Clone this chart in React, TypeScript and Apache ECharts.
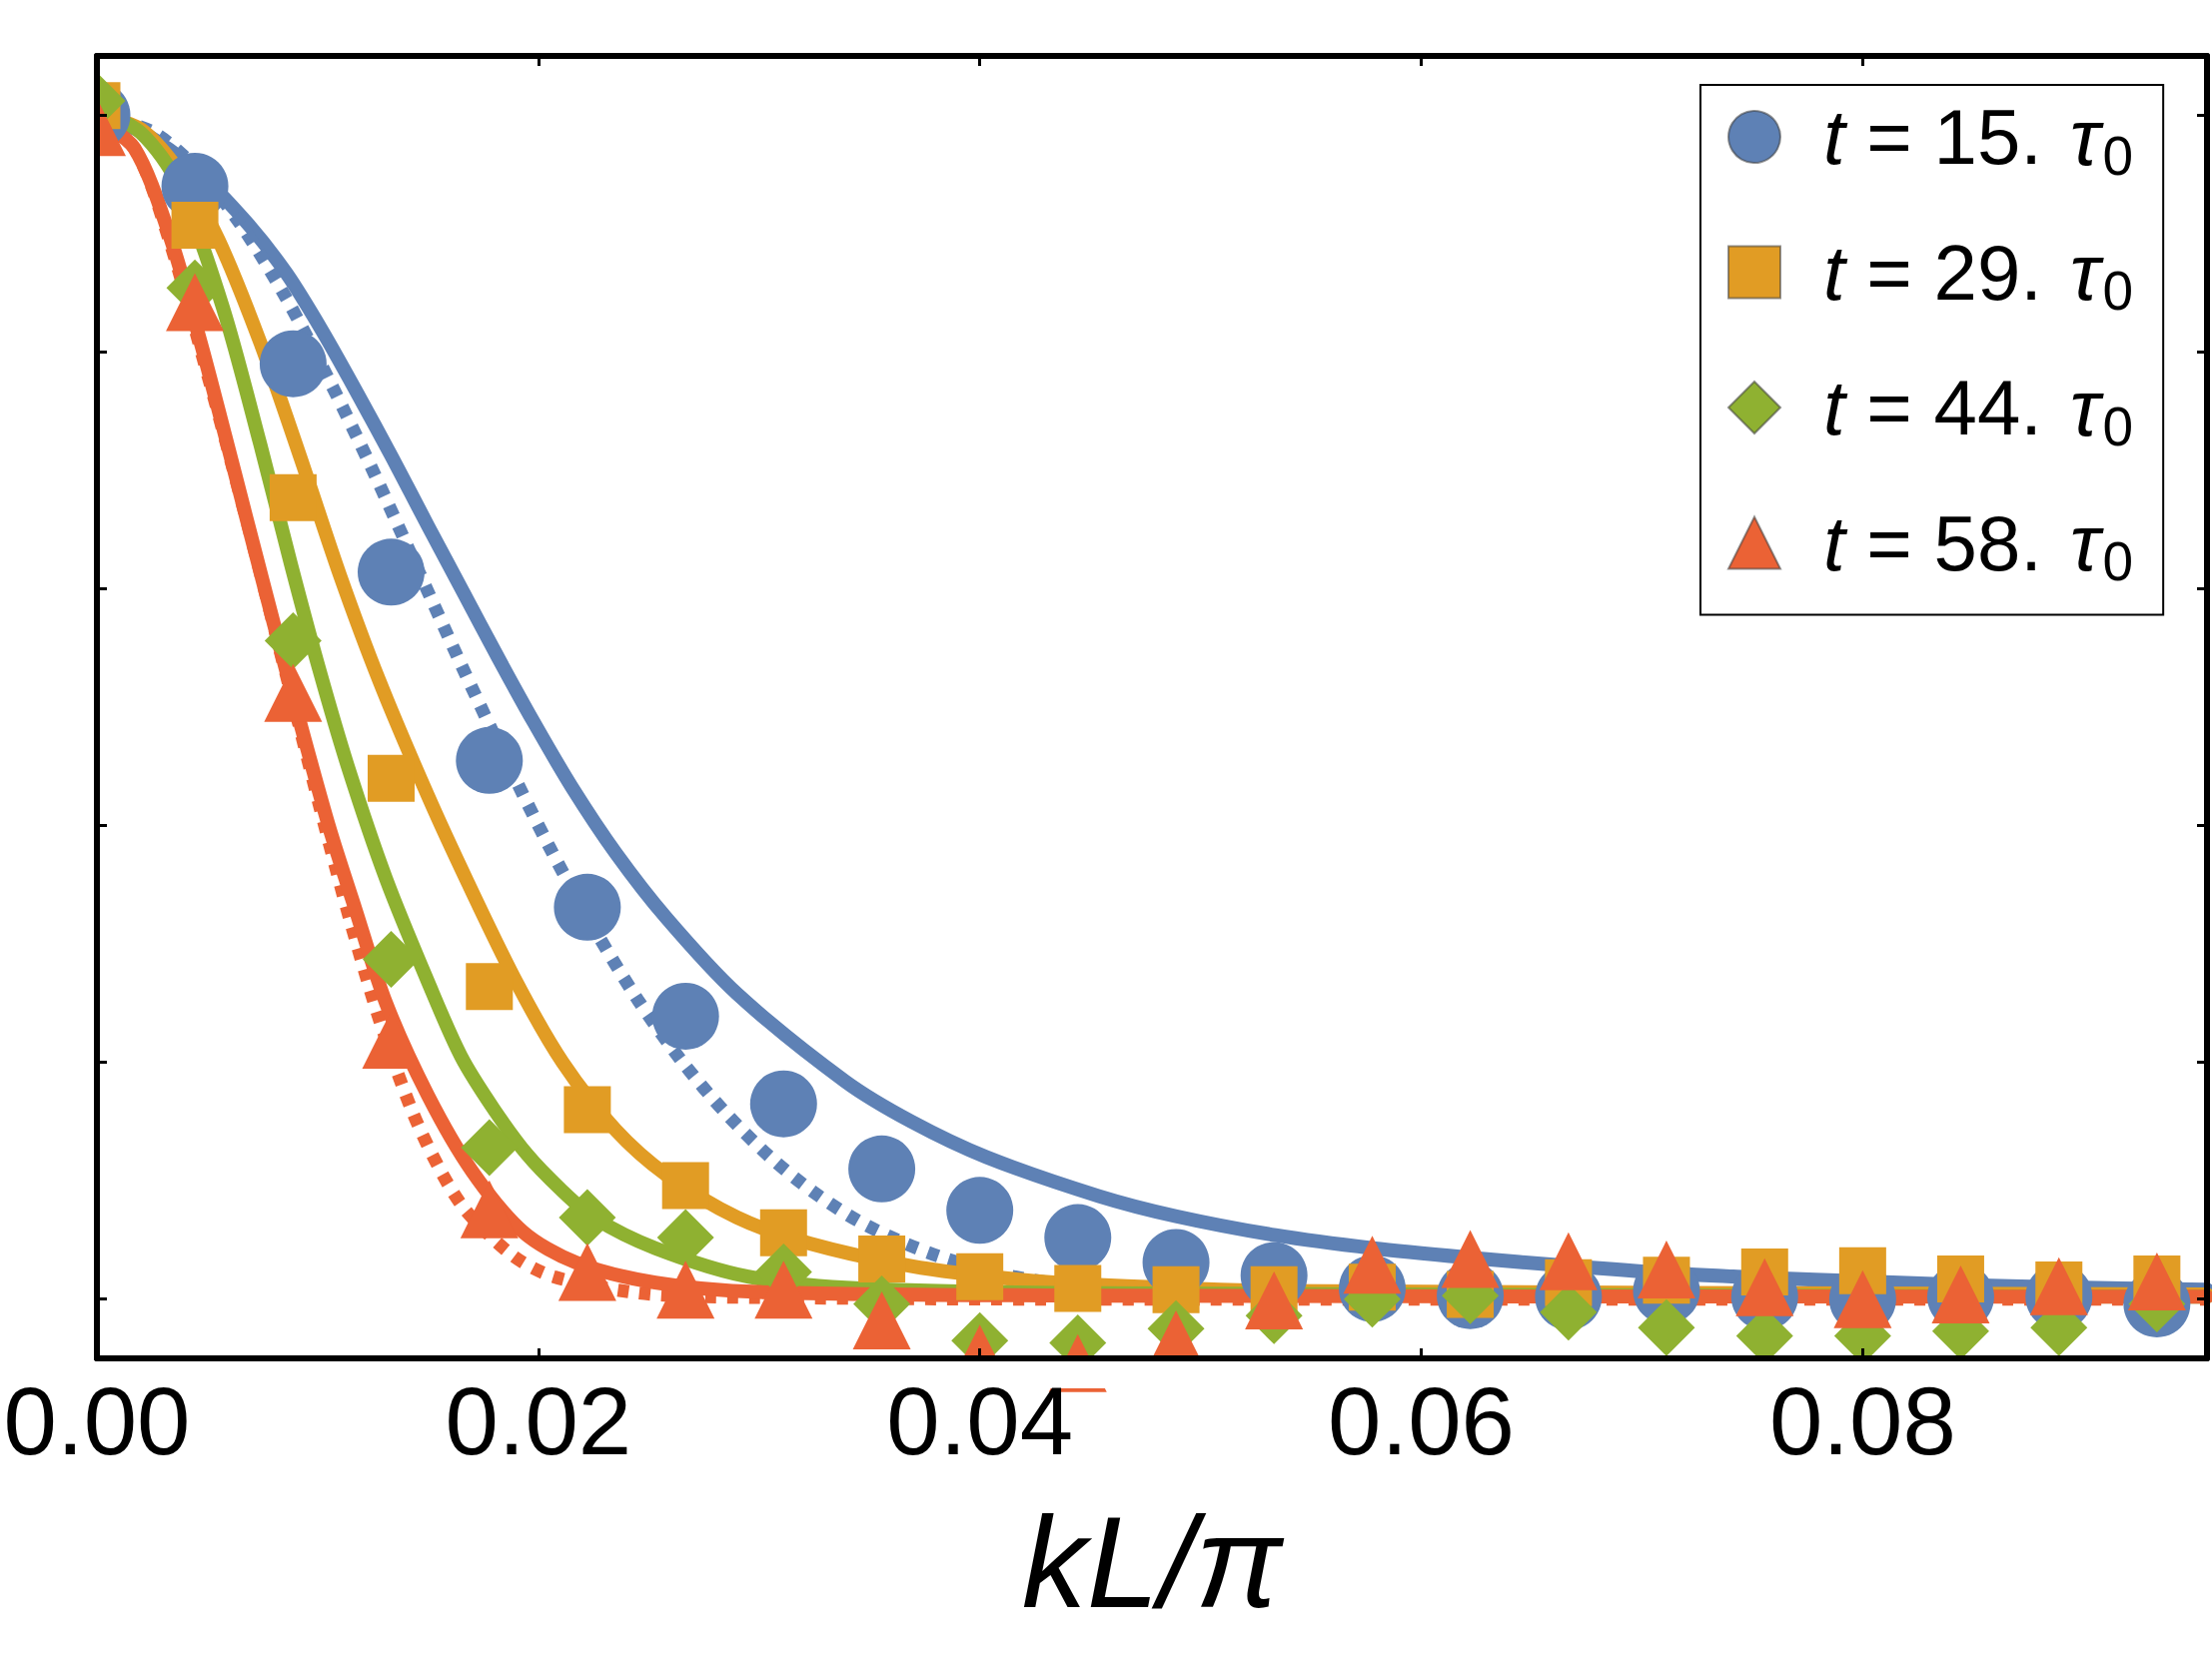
import React, { useEffect, useRef } from "react";
import * as echarts from "echarts";

// ---- data ----
const kValues = [0, 0.00444, 0.00889, 0.01333, 0.01778, 0.02222, 0.02667, 0.03111, 0.03556, 0.04, 0.04444, 0.04889, 0.05333, 0.05778, 0.06222, 0.06667, 0.07111, 0.07556, 0.08, 0.08444, 0.08889, 0.09333];

const pts15 = [1.0, 0.94, 0.79, 0.614, 0.455, 0.331, 0.239, 0.165, 0.11, 0.075, 0.052, 0.031, 0.02, 0.009, 0.003, 0.002, 0.007, 0.002, 0.0, 0.002, 0.002, -0.004];
const pts29 = [1.008, 0.907, 0.677, 0.44, 0.264, 0.16, 0.096, 0.056, 0.034, 0.019, 0.009, 0.008, 0.008, 0.01, 0.004, 0.014, 0.016, 0.023, 0.024, 0.017, 0.012, 0.017];
const pts44 = [1.012, 0.854, 0.556, 0.287, 0.128, 0.069, 0.052, 0.023, -0.004, -0.035, -0.037, -0.025, -0.014, 0.0, 0.003, -0.011, -0.024, -0.031, -0.031, -0.027, -0.024, -0.004];
const pts58 = [0.99, 0.842, 0.512, 0.219, 0.076, 0.023, 0.008, 0.008, -0.018, -0.046, -0.054, -0.034, -0.001, 0.029, 0.034, 0.032, 0.025, 0.01, 0.0, 0.004, 0.011, 0.015];

const fit15 = [[0, 1.0], [0.002, 0.986], [0.0045, 0.953], [0.0068, 0.909], [0.0086, 0.866], [0.0102, 0.818], [0.0118, 0.765], [0.0134, 0.71], [0.015, 0.653], [0.0166, 0.597], [0.0182, 0.541], [0.0198, 0.487], [0.0215, 0.433], [0.0235, 0.377], [0.0258, 0.322], [0.029, 0.258], [0.0339, 0.184], [0.0369, 0.15], [0.0403, 0.12], [0.0454, 0.087], [0.0489, 0.07], [0.0534, 0.054], [0.0578, 0.043], [0.0622, 0.035], [0.0667, 0.028], [0.0712, 0.022], [0.0756, 0.018], [0.0801, 0.015], [0.0845, 0.012], [0.0889, 0.01], [0.0956, 0.008]];
const dot15 = [[0, 1.0], [0.0025, 0.986], [0.0045, 0.955], [0.0065, 0.908], [0.0085, 0.848], [0.0105, 0.777], [0.0125, 0.7], [0.0145, 0.618], [0.0165, 0.536], [0.0185, 0.457], [0.0205, 0.382], [0.0225, 0.314], [0.0245, 0.253], [0.0265, 0.201], [0.0285, 0.157], [0.0305, 0.12], [0.0325, 0.09], [0.0345, 0.066], [0.0365, 0.048], [0.0385, 0.034], [0.041, 0.021], [0.044, 0.012], [0.048, 0.006], [0.055, 0.003], [0.0956, 0.002]];
const fit29 = [[0, 1.0], [0.002, 0.988], [0.0039, 0.948], [0.0055, 0.895], [0.0074, 0.808], [0.0092, 0.712], [0.011, 0.612], [0.0128, 0.522], [0.015, 0.425], [0.0168, 0.352], [0.019, 0.268], [0.0211, 0.2], [0.0235, 0.143], [0.0258, 0.105], [0.029, 0.069], [0.0323, 0.047], [0.0369, 0.028], [0.0415, 0.017], [0.0454, 0.012], [0.0534, 0.007], [0.0956, 0.004]];
const fit44 = [[0, 1.005], [0.002, 0.985], [0.0037, 0.941], [0.0057, 0.838], [0.0074, 0.722], [0.0088, 0.62], [0.0101, 0.53], [0.0114, 0.448], [0.0131, 0.355], [0.015, 0.268], [0.0165, 0.205], [0.018, 0.16], [0.0195, 0.122], [0.021, 0.093], [0.0225, 0.069], [0.0253, 0.043], [0.0295, 0.019], [0.0346, 0.009], [0.0454, 0.005], [0.0956, 0.002]];
const fit58 = [[0, 0.996], [0.0017, 0.972], [0.0033, 0.898], [0.0047, 0.808], [0.0058, 0.73], [0.0067, 0.665], [0.0077, 0.593], [0.0089, 0.508], [0.0105, 0.4], [0.0117, 0.33], [0.0131, 0.25], [0.015, 0.172], [0.017, 0.108], [0.0193, 0.057], [0.0217, 0.031], [0.0253, 0.014], [0.03, 0.006], [0.0454, 0.003], [0.0956, 0.002]];
const dot58 = [[0, 0.996], [0.0017, 0.972], [0.0033, 0.893], [0.0051, 0.775], [0.0061, 0.706], [0.0072, 0.628], [0.0081, 0.562], [0.0091, 0.489], [0.0104, 0.394], [0.0115, 0.318], [0.0128, 0.236], [0.0143, 0.158], [0.0157, 0.104], [0.0168, 0.073], [0.0189, 0.036], [0.0207, 0.019], [0.0242, 0.006], [0.0276, 0.002], [0.0454, 0.0], [0.0956, 0.0]];

const seriesNames = ["t15", "t29", "t44", "t58"];
const legendNumbers = ["15.", "29.", "44.", "58."];
const xTicks = [0, 0.02, 0.04, 0.06, 0.08];
const yTicks = [0, 0.2, 0.4, 0.6, 0.8, 1.0];

const BLUE = "#5E81B5";
const ORANGE = "#E19C24";
const GREEN = "#8FB131";
const RED = "#EB6235";
const FONT = "'Liberation Sans', Arial, sans-serif";

export default function App() {
  const ref = useRef<HTMLDivElement>(null);

  useEffect(() => {
    document.body.style.margin = "0";
    if (!ref.current) return;
    const chart = echarts.init(ref.current, undefined, { renderer: "svg" });

    const scatter = (name: string, vals: number[], symbol: string, size: number, color: string) => ({
      type: "scatter",
      name,
      data: kValues.map((k, i) => [k, vals[i]]),
      symbol,
      symbolSize: size,
      itemStyle: { color, opacity: 1 },
      clip: false,
      z: 3,
    });
    const line = (name: string, data: number[][], color: string, dotted: boolean) => ({
      type: "line",
      name,
      data,
      showSymbol: false,
      symbol: "none",
      smooth: 0.3,
      lineStyle: dotted
        ? { color, width: 13, type: [11, 11], cap: "butt", opacity: 1 }
        : { color, width: 14, type: "solid", cap: "round", join: "round", opacity: 1 },
      z: 2,
      silent: true,
    });

    const axisCommon = {
      type: "value",
      axisLine: { show: true, onZero: false, lineStyle: { color: "#000", width: 6 } },
      axisTick: { show: true, inside: true, length: 10, lineStyle: { color: "#000", width: 3 } },
      splitLine: { show: false },
      z: 5,
    };

    chart.setOption({
      animation: false,
      backgroundColor: "#fff",
      grid: { left: 97, right: 5, top: 56, bottom: 308, containLabel: false },
      xAxis: [
        {
          ...axisCommon,
          position: "bottom",
          min: 0,
          max: 0.0956,
          interval: 0.02,
          axisTick: { ...axisCommon.axisTick, customValues: xTicks },
          axisLabel: {
            show: true,
            customValues: xTicks,
            margin: 14,
            color: "#000",
            fontSize: 96,
            fontFamily: FONT,
            formatter: (v: number) => v.toFixed(2),
          },
          name: "kL/π",
          nameLocation: "middle",
          nameGap: 139,
          nameTextStyle: { fontSize: 130, fontStyle: "italic", color: "#000", fontFamily: FONT },
        },
        {
          ...axisCommon,
          position: "top",
          min: 0,
          max: 0.0956,
          interval: 0.02,
          axisTick: { ...axisCommon.axisTick, customValues: xTicks },
          axisLabel: { show: false },
        },
      ],
      yAxis: [
        {
          ...axisCommon,
          position: "left",
          min: -0.05,
          max: 1.05,
          axisTick: { ...axisCommon.axisTick, customValues: yTicks },
          axisLabel: { show: false },
        },
        {
          ...axisCommon,
          position: "right",
          min: -0.05,
          max: 1.05,
          axisTick: { ...axisCommon.axisTick, customValues: yTicks },
          axisLabel: { show: false },
        },
      ],
      legend: {
        orient: "vertical",
        left: 1702,
        top: 85,
        padding: [6, 30, 26, 27],
        itemWidth: 52,
        itemHeight: 52,
        itemGap: 43.5,
        borderColor: "#000",
        borderWidth: 2,
        backgroundColor: "#fff",
        selectedMode: false,
        data: seriesNames,
        itemStyle: { borderColor: "rgba(60,60,60,0.55)", borderWidth: 2, opacity: 1 },
        formatter: (name: string) => {
          const idx = seriesNames.indexOf(name);
          return `{t|t}{n| = ${legendNumbers[idx]} }{tau|τ}{sub|0}`;
        },
        textStyle: {
          color: "#000",
          fontFamily: FONT,
          fontSize: 78,
          rich: {
            t: { fontStyle: "italic", fontSize: 78, fontFamily: FONT, lineHeight: 80, padding: [0, 0, 0, 38], color: "#000" },
            n: { fontSize: 78, fontFamily: FONT, lineHeight: 80, color: "#000" },
            tau: { fontStyle: "italic", fontSize: 80, fontFamily: FONT, lineHeight: 80, padding: [0, 0, 0, 6], color: "#000" },
            sub: { fontSize: 55, fontFamily: FONT, lineHeight: 43, padding: [37, 0, 0, 3], color: "#000" },
          },
        },
      },
      graphic: [
        { type: "rect", shape: { x: 0, y: 0, width: 94, height: 1392 }, style: { fill: "#fff" }, z: 4, silent: true },
        { type: "rect", shape: { x: 0, y: 1363, width: 2214, height: 27 }, style: { fill: "#fff" }, z: 4, silent: true },
      ],
      series: [
        line("fit15", fit15, BLUE, false),
        line("dot15", dot15, BLUE, true),
        line("fit29", fit29, ORANGE, false),
        line("fit44", fit44, GREEN, false),
        line("dot58", dot58, RED, true),
        line("fit58", fit58, RED, false),
        scatter("t15", pts15, "circle", 67, BLUE),
        scatter("t29", pts29, "rect", 47, ORANGE),
        scatter("t44", pts44, "diamond", 57, GREEN),
        scatter("t58", pts58, "triangle", 58, RED),
      ],
    });

    return () => chart.dispose();
  }, []);

  return <div ref={ref} style={{ width: 2214, height: 1668 }} />;
}
